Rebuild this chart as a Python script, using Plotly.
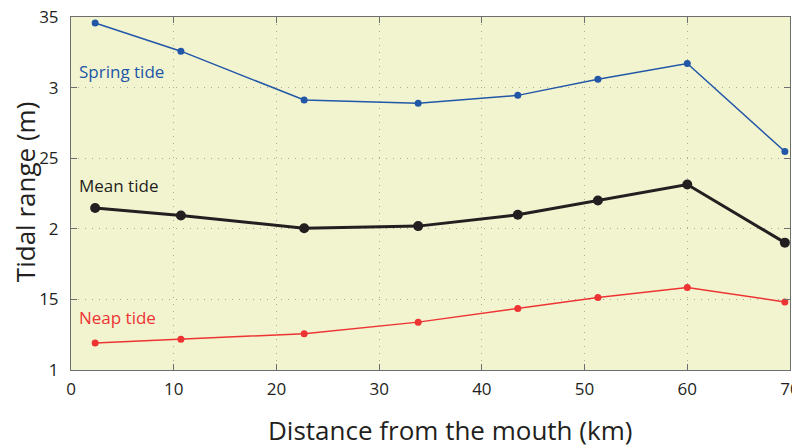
import plotly.graph_objects as go

distance_km = [2.35, 10.7, 22.7, 33.8, 43.5, 51.3, 60.0, 69.5]
spring_tide = [3.457, 3.258, 2.912, 2.890, 2.945, 3.059, 3.171, 2.547]
mean_tide = [2.147, 2.094, 2.004, 2.019, 2.099, 2.201, 2.314, 1.902]
neap_tide = [1.191, 1.217, 1.257, 1.339, 1.435, 1.513, 1.584, 1.482]

y_tick_vals = [1, 1.5, 2, 2.5, 3, 3.5]
y_tick_text = ["1", "15", "2", "25", "3", "35"]
x_tick_vals = [0, 10, 20, 30, 40, 50, 60, 70]

BLUE = "#2257A7"
BLACK = "#231F20"
RED = "#EE3333"
FONT = "Open Sans"

fig = go.Figure()
fig.add_trace(go.Scatter(x=distance_km, y=spring_tide, mode="lines+markers",
                         line=dict(color=BLUE, width=1.5),
                         marker=dict(color=BLUE, size=7), cliponaxis=False))
fig.add_trace(go.Scatter(x=distance_km, y=mean_tide, mode="lines+markers",
                         line=dict(color=BLACK, width=3),
                         marker=dict(color=BLACK, size=10), cliponaxis=False))
fig.add_trace(go.Scatter(x=distance_km, y=neap_tide, mode="lines+markers",
                         line=dict(color=RED, width=1.5),
                         marker=dict(color=RED, size=7), cliponaxis=False))

for txt, yv, col in [("Spring tide", 3.115, BLUE), ("Mean tide", 2.31, BLACK), ("Neap tide", 1.375, RED)]:
    fig.add_annotation(x=0.6, y=yv, text=txt, showarrow=False, xanchor="left",
                       yanchor="middle", font=dict(family=FONT, size=17, color=col))

# axis titles
fig.add_annotation(xref="paper", yref="paper", x=0.527, y=-0.170,
                   text="Distance from the mouth (km)", showarrow=False,
                   xanchor="center", yanchor="middle",
                   font=dict(family=FONT, size=26, color=BLACK))
fig.add_annotation(xref="paper", yref="paper", x=-0.063, y=0.503,
                   text="Tidal range (m)", showarrow=False, textangle=-90,
                   xanchor="center", yanchor="middle",
                   font=dict(family=FONT, size=26, color=BLACK))

axis_common = dict(showline=True, linecolor="#6D6E70", linewidth=1, mirror="ticks",
                   ticks="inside", ticklen=6, tickcolor="#6D6E70",
                   showgrid=True, gridcolor="#A9AA98", griddash="1px,6px", gridwidth=1,
                   zeroline=False, automargin=False, ticklabeloverflow="allow",
                   tickfont=dict(family=FONT, size=17, color=BLACK))

fig.update_xaxes(range=[0, 70], tickvals=x_tick_vals, ticklabelstandoff=4,
                 **axis_common)
fig.update_yaxes(range=[1, 3.5], tickvals=y_tick_vals, ticktext=y_tick_text,
                 ticklabelstandoff=8, **axis_common)

# page body has an 8px default margin, so the figure is drawn 8px in from the corner
fig.update_layout(width=792, height=440, showlegend=False,
                  margin=dict(l=63, r=10, t=9, b=78),
                  plot_bgcolor="#F2F4D0", paper_bgcolor="white")

fig.write_html("out.html")
